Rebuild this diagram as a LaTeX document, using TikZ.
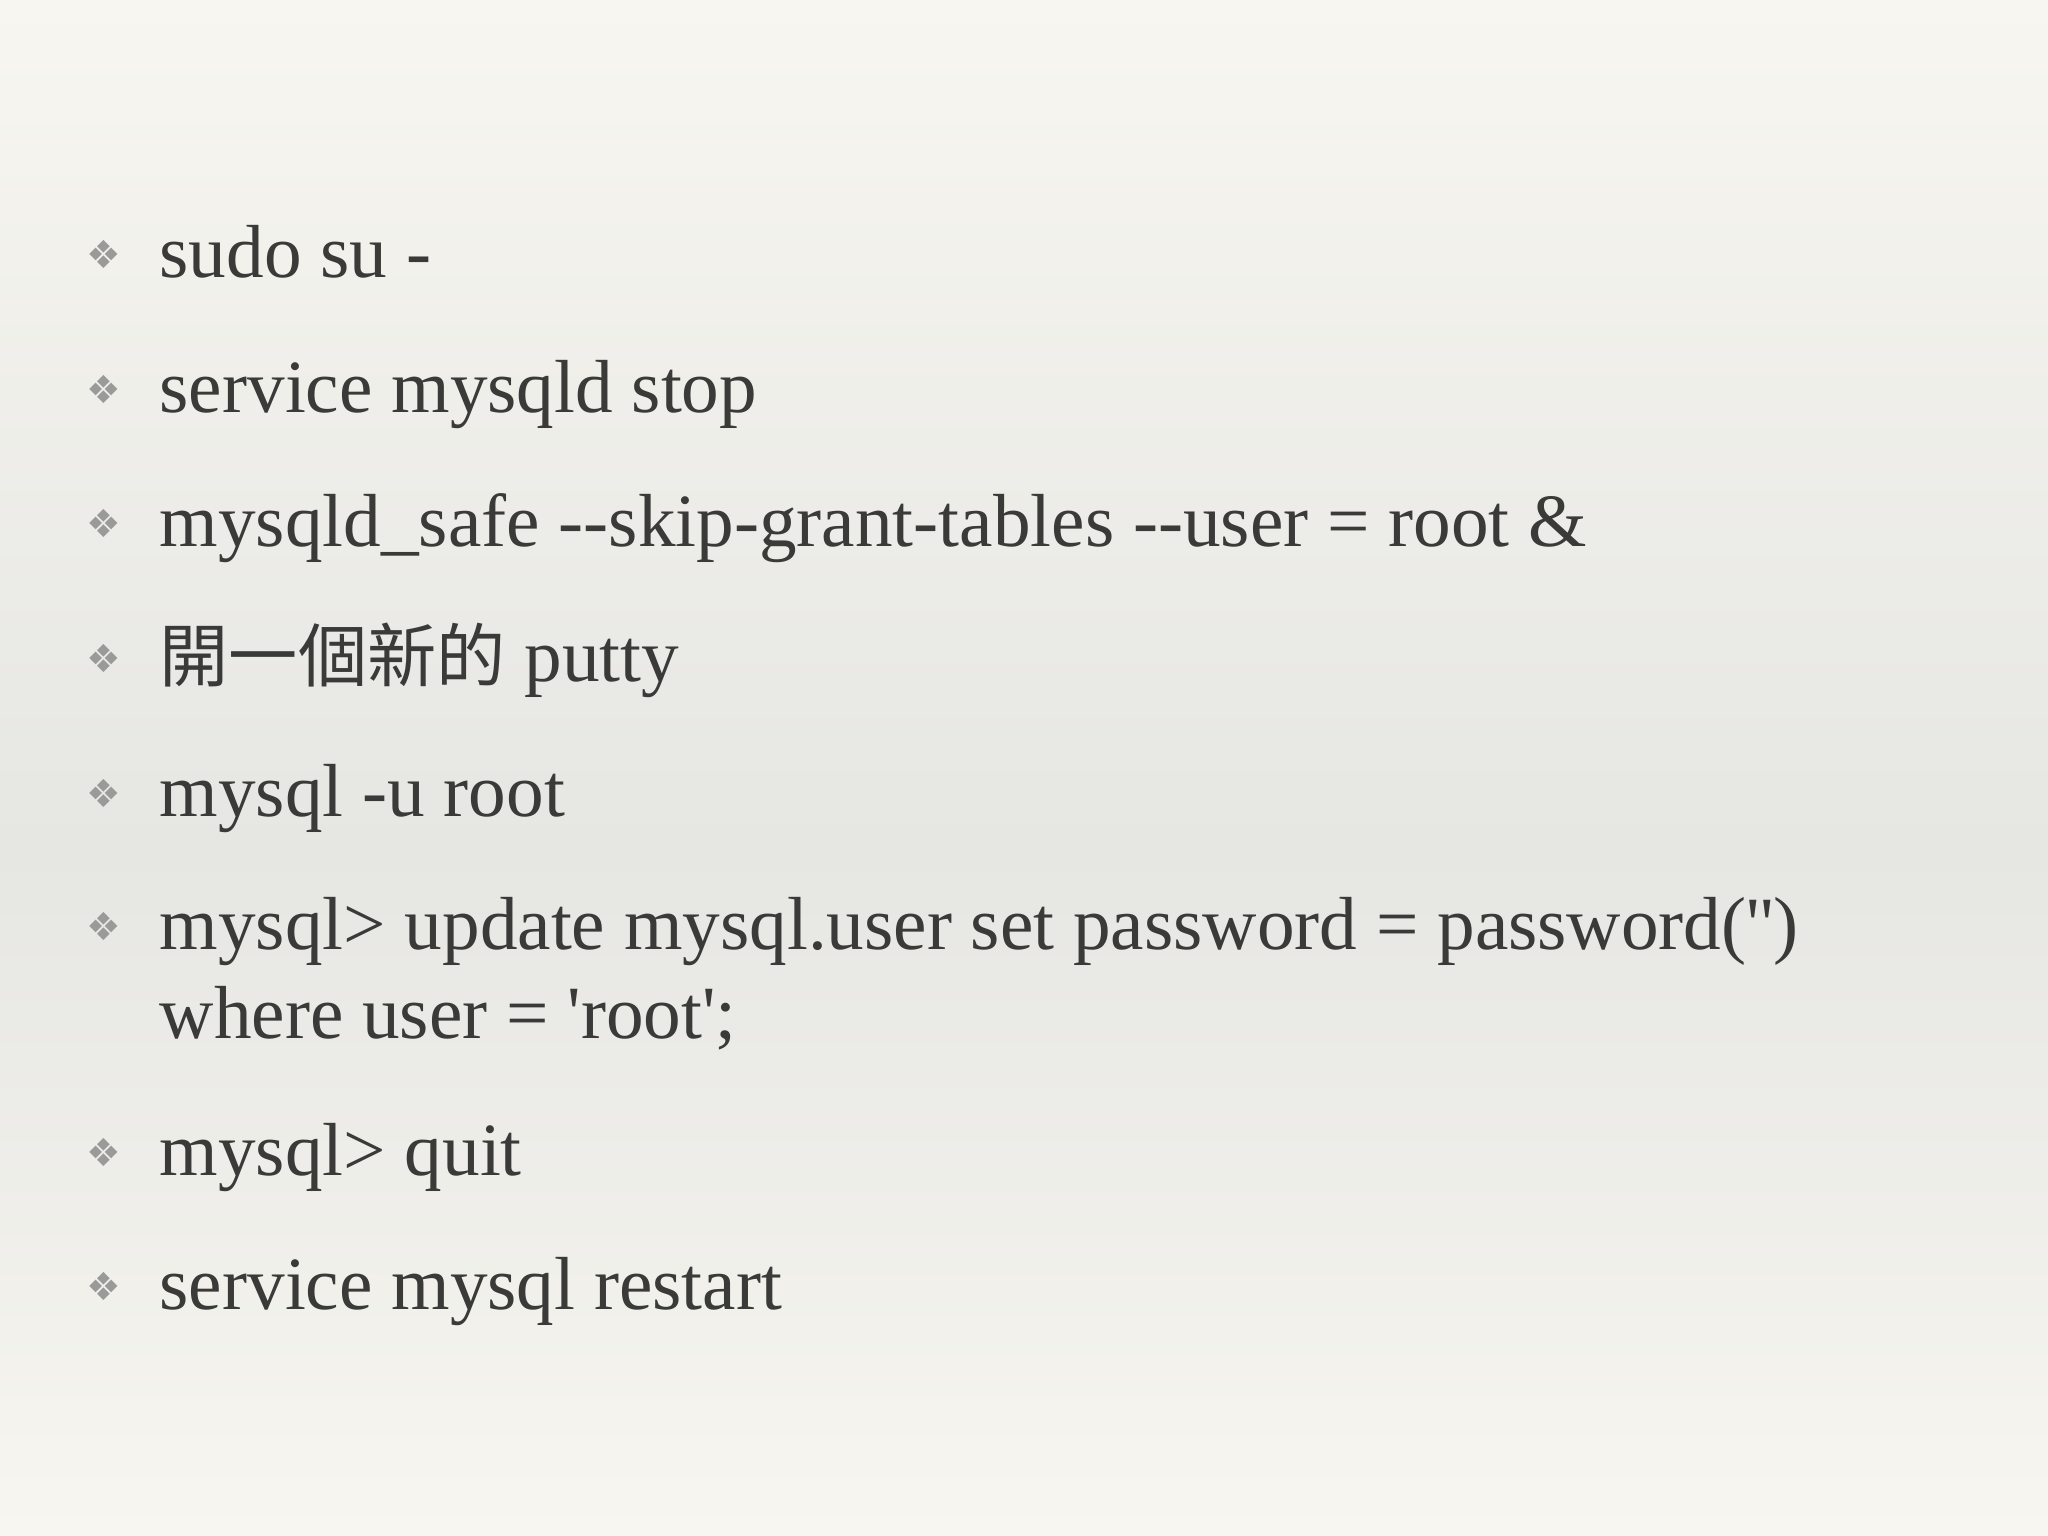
\documentclass[tikz,border=0pt]{standalone}
\usepackage{fontspec}
\setmainfont[Ligatures=ResetAll,Mapping=]{Liberation Serif}
\newfontfamily\cjk{Noto Sans CJK TC}[Scale=0.92]
\newfontfamily\sym{DejaVu Sans}
\definecolor{txt}{HTML}{3A3A38}
\definecolor{bg}{HTML}{F7F6F0}
\definecolor{band}{HTML}{E6E6E3}
\definecolor{bul}{HTML}{9A9A98}
\newcommand\dd{-\kern0pt-}
\newcommand\sq{\textquotesingle}
\tikzset{
 item/.style={anchor=base west,text=txt,font=\fontsize{21.4}{28}\selectfont,inner sep=0pt},
 bull/.style={anchor=base,text=bul,font=\sym\fontsize{11}{12}\selectfont,inner sep=0pt}
}
\begin{document}
\begin{tikzpicture}
\useasboundingbox (0,0) rectangle (20.48,-15.36);
\shade[top color=bg,bottom color=band] (0,0) rectangle (20.48,-8.5);
\shade[top color=band,bottom color=bg] (0,-8.5) rectangle (20.48,-15.36);
\foreach \n/\y/\t in {a/2.78/{sudo su -},b/4.13/{service mysqld stop},c/5.46/{mysqld\_safe \dd skip-grant-tables \dd user = root \&},d/6.82/{{\cjk 開一個新的} putty},e/8.16/{mysql -u root},f/9.49/{mysql> update mysql.user set password = password(\sq\kern0pt\sq)},h/11.75/{mysql> quit},i/13.09/{service mysql restart}}{
  \node[item] (t\n) at (1.59,-\y) {\t};
  \node[bull] (b\n) at (1.04,-\y+0.09) {❖};
}
\node[item] (tg) at (1.59,-10.38) {where user = \sq root\sq;};
\end{tikzpicture}
\end{document}
